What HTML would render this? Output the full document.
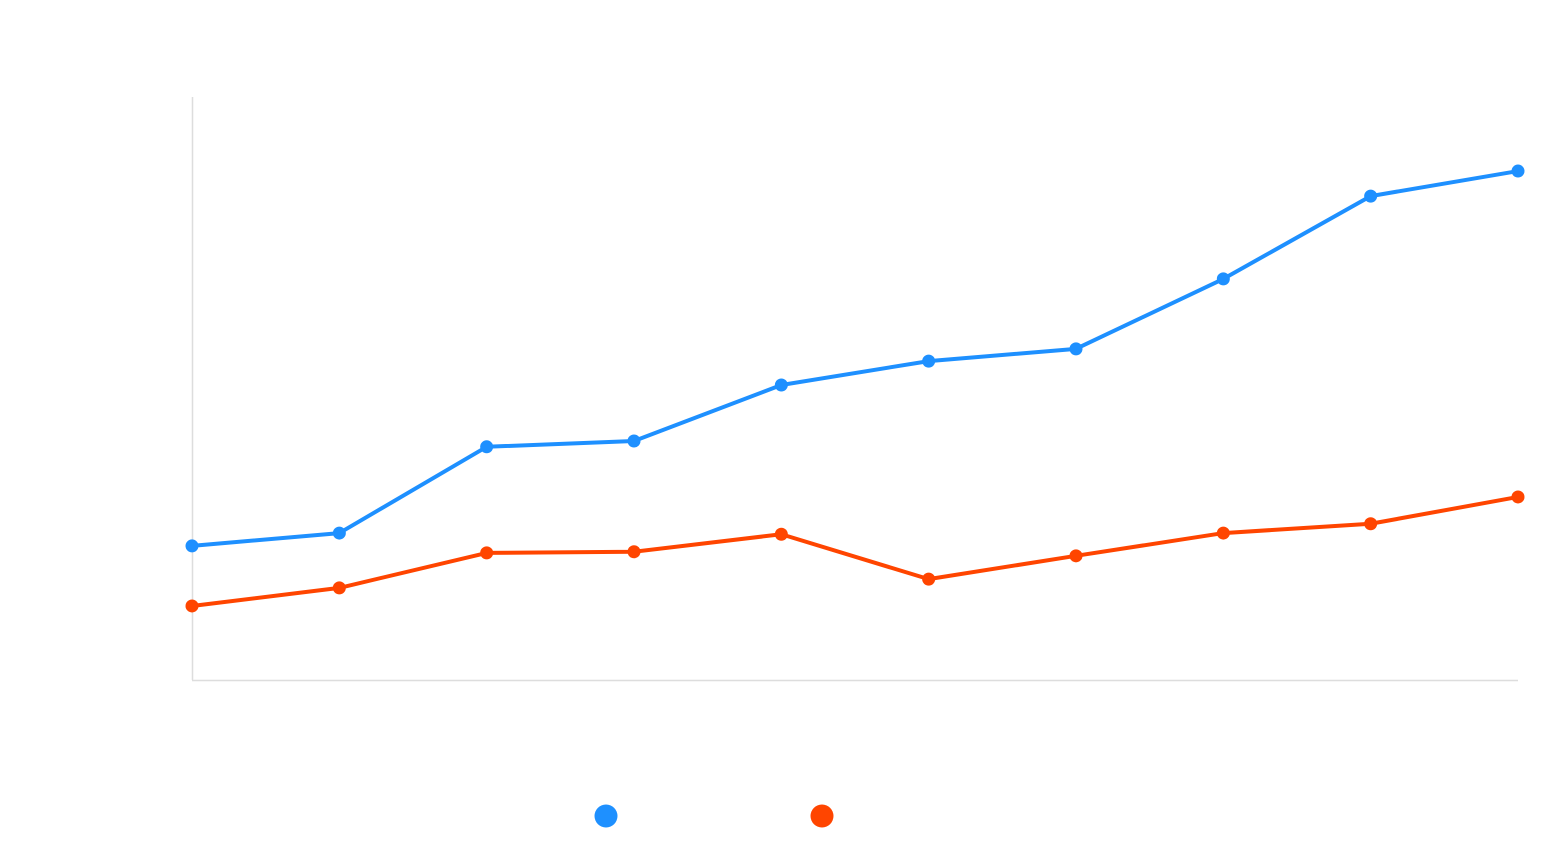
<!DOCTYPE html>
<html><head><meta charset="utf-8"><style>
html,body{margin:0;padding:0;background:#fff;}
svg{display:block;font-family:"Liberation Sans",sans-serif;}
</style></head><body>
<svg id="chart" width="1564" height="850">
<line x1="192.5" y1="97" x2="192.5" y2="680" stroke="#ddd" stroke-width="1.5"/>
<line x1="192" y1="680.5" x2="1518" y2="680.5" stroke="#ddd" stroke-width="1.5"/>
<g id="plot"></g>
<circle cx="606" cy="816" r="11.5" fill="#1e90ff"/>
<circle cx="822" cy="816" r="11.5" fill="#ff4500"/>
</svg>
<script>
const categories = [1,2,3,4,5,6,7,8,9,10];
const blueValues = [23.0,25.2,40.0,41.0,50.6,54.7,56.8,68.8,83.0,87.3];
const orangeValues = [12.7,15.8,21.8,22.0,25.0,17.3,21.3,25.2,26.8,31.4];
const yMin = 0, yMax = 100;
const X0=192, X1=1518, Y0=680, Y1=97;
function xScale(i){return X0+(X1-X0)*i/(categories.length-1);}
function yScale(v){return Y0-(Y0-Y1)*(v-yMin)/(yMax-yMin);}
const NS="http://www.w3.org/2000/svg";
const plot=document.getElementById('plot');
function drawSeries(vals,color,name){
  const pts=vals.map((v,i)=>xScale(i)+','+yScale(v)).join(' ');
  const pl=document.createElementNS(NS,'polyline');
  pl.setAttribute('points',pts);
  pl.setAttribute('fill','none');
  pl.setAttribute('stroke',color);
  pl.setAttribute('stroke-width','4');
  pl.setAttribute('stroke-linejoin','round');
  
  
  plot.appendChild(pl);
  vals.forEach((v,i)=>{
    const c=document.createElementNS(NS,'circle');
    c.setAttribute('cx',xScale(i));
    c.setAttribute('cy',yScale(v));
    c.setAttribute('r','6.5');
    c.setAttribute('fill',color);
    
    
    plot.appendChild(c);
  });
}
drawSeries(blueValues,'#1e90ff','series-1');
drawSeries(orangeValues,'#ff4500','series-2');
</script>
</body></html>
